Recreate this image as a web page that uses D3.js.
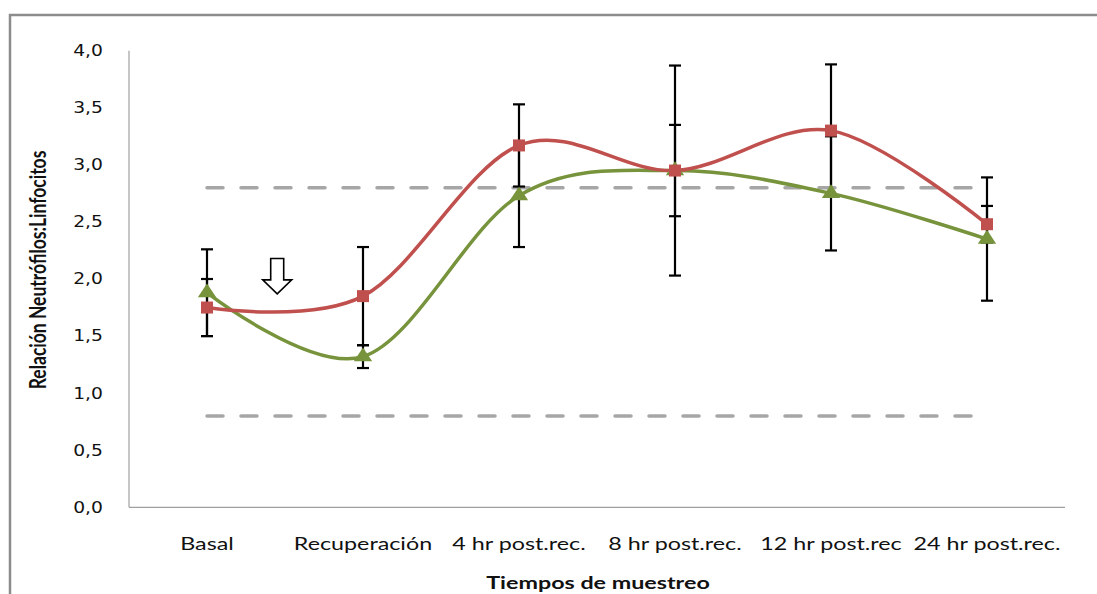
<!DOCTYPE html>
<html>
<head>
<meta charset="utf-8">
<script src="https://cdn.jsdelivr.net/npm/d3@7"></script>
<style>
  html, body { margin: 0; padding: 0; background: #fff; }
  svg { display: block; }
</style>
</head>
<body>
<svg id="chart" width="1097" height="594"></svg>
<script>
// data
const categories = ["Basal", "Recuperación", "4 hr post.rec.", "8 hr post.rec.", "12 hr post.rec", "24 hr post.rec."];
const redValues   = [1.75, 1.85, 3.17, 2.95, 3.30, 2.48];
const redErrors   = [0.25, 0.43, 0.36, 0.40, 0.58, 0.16];
const greenValues = [1.88, 1.32, 2.73, 2.95, 2.75, 2.35];
const greenErrors = [0.38, 0.10, 0.45, 0.92, 0.50, 0.54];
const refLow  = [0.8, 0.8, 0.8, 0.8, 0.8, 0.8];
const refHigh = [2.8, 2.8, 2.8, 2.8, 2.8, 2.8];
const yTicks = [0, 0.5, 1, 1.5, 2, 2.5, 3, 3.5, 4];
const yTitle = "Relación Neutrófilos:Linfocitos";
const xTitle = "Tiempos de muestreo";
// hollow arrow annotation (between Basal and Recuperación)
const arrowNote = { after: 0, offset: 0.45, top: 2.18, bottom: 1.87 };

const RED = "#C0504D", GREEN = "#77933C";
const stretch = 1.37; // the picture is wider than its text

const svg = d3.select("#chart");

const x = d3.scaleBand().domain(categories).range([129, 1065]);
const cx = d => x(d) + x.bandwidth() / 2;
const y = d3.scaleLinear().domain([0, 4]).range([507.3, 50.7]);

// outer frame
svg.append("path")
  .attr("d", "M10,594 V15 H1097")
  .attr("fill", "none")
  .attr("stroke", "#8c8c8c")
  .attr("stroke-width", 2.5);

// axes lines
svg.append("line")
  .attr("x1", 129).attr("x2", 129)
  .attr("y1", y(4)).attr("y2", y(0))
  .attr("stroke", "#a0a0a0").attr("stroke-width", 1.2);
svg.append("line")
  .attr("x1", 129).attr("x2", 1065)
  .attr("y1", y(0)).attr("y2", y(0))
  .attr("stroke", "#a0a0a0").attr("stroke-width", 1.2);

// y tick labels
svg.append("g").selectAll("text")
  .data(yTicks)
  .join("text")
  .attr("transform", d => `translate(103,${y(d)}) scale(1.25,1)`)
  .attr("text-anchor", "end")
  .attr("dy", "0.36em")
  .attr("font-family", "DejaVu Sans, Verdana, sans-serif")
  .attr("font-size", 15)
  .attr("fill", "#111")
  .text(d => d3.format(".1f")(d).replace(".", ","));

// x category labels
svg.append("g").selectAll("text")
  .data(categories)
  .join("text")
  .attr("transform", d => `translate(${cx(d)},550) scale(${stretch},1)`)
  .attr("text-anchor", "middle")
  .attr("font-family", "Lato, sans-serif")
  .attr("font-size", 17)
  .attr("fill", "#111")
  .text(d => d);

// axis titles
svg.append("text")
  .attr("transform", `translate(598,589) scale(${stretch},1)`)
  .attr("text-anchor", "middle")
  .attr("font-family", "Lato, sans-serif")
  .attr("font-weight", "bold")
  .attr("font-size", 17)
  .attr("fill", "#111")
  .text(xTitle);

svg.append("text")
  .attr("transform", `translate(46,270) scale(1.3,1) rotate(-90)`)
  .attr("text-anchor", "middle")
  .attr("font-family", "Lato, sans-serif")
  .attr("font-weight", "bold")
  .attr("font-size", 17.5)
  .attr("fill", "#111")
  .text(yTitle);

// reference range dashed lines
const straight = d3.line().x((d, i) => cx(categories[i])).y(d => y(d));
[refLow, refHigh].forEach(ref => {
  svg.append("path")
    .attr("d", straight(ref))
    .attr("fill", "none")
    .attr("stroke", "#a6a6a6")
    .attr("stroke-width", 3.5)
    .attr("stroke-linecap", "round")
    .attr("stroke-dasharray", "16,18")
    .attr("transform", "translate(0,0)");
});

const smooth = d3.line()
  .x((d, i) => cx(categories[i]))
  .y(d => y(d))
  .curve(d3.curveCardinal.tension(0));

function errorBars(values, errors) {
  const g = svg.append("g").attr("stroke", "#000").attr("stroke-width", 2.2);
  values.forEach((v, i) => {
    const px = cx(categories[i]);
    const lo = y(v - errors[i]), hi = y(v + errors[i]);
    g.append("line").attr("x1", px).attr("x2", px).attr("y1", lo).attr("y2", hi);
    g.append("line").attr("x1", px - 6).attr("x2", px + 6).attr("y1", lo).attr("y2", lo);
    g.append("line").attr("x1", px - 6).attr("x2", px + 6).attr("y1", hi).attr("y2", hi);
  });
}

// green series
svg.append("path")
  .attr("d", smooth(greenValues))
  .attr("fill", "none")
  .attr("stroke", GREEN)
  .attr("stroke-width", 3.5);

// red series line
svg.append("path")
  .attr("d", smooth(redValues))
  .attr("fill", "none")
  .attr("stroke", RED)
  .attr("stroke-width", 3.5);

errorBars(greenValues, greenErrors);
errorBars(redValues, redErrors);

svg.append("g").selectAll("path")
  .data(greenValues)
  .join("path")
  .attr("d", d3.symbol(d3.symbolTriangle, 110))
  .attr("transform", (d, i) => `translate(${cx(categories[i])},${y(d)}) scale(1.15,1)`)
  .attr("fill", GREEN);

svg.append("g").selectAll("rect")
  .data(redValues)
  .join("rect")
  .attr("x", (d, i) => cx(categories[i]) - 6)
  .attr("y", d => y(d) - 6)
  .attr("width", 12)
  .attr("height", 12)
  .attr("fill", RED);

// hollow down arrow
const ax = cx(categories[arrowNote.after]) + arrowNote.offset * x.step();
const aTop = y(arrowNote.top), aBot = y(arrowNote.bottom);
const headH = 14, shaftW = 6.5, headW = 14.5;
const arrowPts = [
  [ax - shaftW, aTop], [ax + shaftW, aTop], [ax + shaftW, aBot - headH],
  [ax + headW, aBot - headH], [ax, aBot], [ax - headW, aBot - headH],
  [ax - shaftW, aBot - headH]
];
svg.append("path")
  .attr("d", d3.line()(arrowPts) + "Z")
  .attr("fill", "#fff")
  .attr("stroke", "#000")
  .attr("stroke-width", 1.6);
</script>
</body>
</html>
